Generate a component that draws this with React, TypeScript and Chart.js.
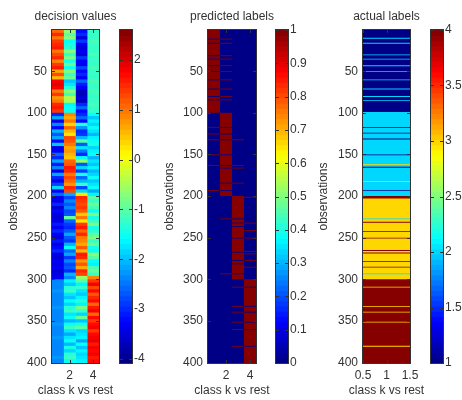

import React, { useEffect, useRef } from "react";
import { Chart, registerables } from "chart.js";
Chart.register(...registerables);

// decision values, one entry per 4 observations
const decisionClass1 = [
  1.1,1.5,1.0,1.4,1.5,1.6,1.0,1.3,1.5,0.9,1.4,1.6,0.7,1.3,0.6,1.8,1.9,1.8,1.0,1.4,0.8,1.0,1.5,1.6,1.4,
  -3,-2.2,-3.4,-2.4,-3.2,-2.0,-2.7,-2.2,-3.2,-1.9,-3.4,-3.3,-2.6,-3.0,-2.1,-3.1,-2.4,-3.4,-2.2,-3.0,-3.3,-2.8,-1.8,-3.3,-2.6,
  -3.3,-3.4,-3,-3.5,-3.2,-3.4,-3.5,-3.4,-3.1,-3.3,-3,-3.3,-3.4,-3.1,-3.4,-3.2,-3,-3.4,-3.5,-3.3,-3.4,-3.3,-3.5,-3.4,-3.3,
  -2.4,-2.35,-2.4,-2.3,-2.4,-2.35,-2.4,-2.4,-2.3,-2.4,-2.35,-2.4,-2.4,-2.3,-2.35,-2.4,-2.4,-2.3,-2.4,-2.35,-2.4,-2.35,-2.4,-2.3,-2.4,
];
const decisionClass2 = [
  -0.6,-1,-0.7,-1.5,-1.4,-1.3,-0.7,-1.2,-0.8,-1.4,-0.9,-1.5,-0.7,-1.2,-0.9,-1.9,-1.7,-1.3,-0.7,-1.1,-0.4,-0.5,-1.6,-1.5,-1.5,
  0.9,0.7,1,0.4,1.1,0.6,0.2,1.3,1.2,1,0.7,0.8,0.6,0.5,1.1,1.2,1.6,1.5,1.0,1.3,1.1,0.8,1.5,1.3,-2.2,
  -2.8,-2.4,-2.7,-2.4,-2.8,-2.7,-0.9,-2.6,-2.9,-3,-2.7,-2.2,-2.7,-2.9,-2,-1.5,-2.6,-2.1,-2.9,-2.4,-2.8,-2.7,-3,-2,-2.4,
  -1.6,-1.9,-1.3,-1.2,-1.7,-1.9,-1.5,-1.8,-1.3,-1.2,-1.7,-1.5,-2,-1.5,-1.2,-1.7,-2.2,-1.7,-1.5,-2,-1.4,-1.8,-1.3,-1.2,-1.5,
];
const decisionClass3 = [
  -3.2,-3,-3.5,-2.9,-3.3,-3.5,-3.3,-3.5,-2.9,-3.3,-3.3,-2.8,-3.2,-3.0,-3.3,-2.6,-3.1,-3.3,-3.6,-3.7,-3.5,-3.7,-3.0,-2.6,-3.2,
  -3,-2.6,-3.2,-1.3,-2.3,-3,-2.9,-2,-1,-2.7,-1.7,-2.5,-3,-1.5,-0.6,-2.7,-1.8,-2.9,-1.4,-2.6,-2,-1.2,-2.8,-1.8,0.2,
  1.5,1.4,1.3,1.4,1.2,0.5,1.0,0.3,1.4,1.6,1.1,1.5,1.0,0.9,0.7,1.2,0.6,1.6,1.5,0.8,1.2,0.7,1.5,1.3,-0.6,
  -1,-1.6,-1.2,-1.7,-1.9,-1.6,-1.3,-1.6,-0.8,-1.2,-1.8,-0.9,-1.9,-1.4,-1.0,-1.8,-1.7,-1.6,-2.1,-1.5,-1.9,-1.6,-1.8,-1.7,-1.6,
];
const decisionClass4 = [
  -1.25,-1.2,-1.25,-1.15,-1.2,-1.25,-1.2,-1.15,-1.25,-1.2,-1.25,-1.15,-1.2,-1.25,-1.2,-1.15,-1.25,-1.2,-1.15,-1.2,-1.25,-1.2,-1.15,-1.25,-1.2,
  -1.5,-1.9,-1.6,-1.8,-1.5,-1.7,-2.0,-1.6,-1.5,-1.4,-1.8,-1.6,-1.5,-2,-1.7,-1.9,-1.6,-2,-1.8,-1.5,-1.9,-1.7,-1.5,-2.1,-1.6,
  -1,-1.2,-0.9,-1.1,-1.5,-0.8,-1.4,-1.2,-0.8,-1.4,-1.3,-1.0,-0.8,-1.2,-0.9,-1.4,-1.5,-0.7,-1,-1.5,-1.6,-1.1,-0.9,-1.2,0.9,
  1.4,1.8,1.3,1.7,1.2,1.5,1.7,1.1,1.6,1.8,1.1,1.7,1.4,1.7,1.8,1.4,1.7,1.8,1.9,1.6,1.8,1.7,1.8,1.6,1.7,
];

// predicted labels: rows that deviate from the class block of each column
const predictedOff1 = [12,17,32,36,44,51,61,72,81,85];
const predictedOn1 = [118,126,133,151,164,194];
const predictedOff2 = [118,126,133,151,164,194,167,185];
const predictedOn2 = [12,17,32,36,44,51,61,72,81,85,228,294];
const predictedOff3 = [228,233,237,251,268,278,282,294];
const predictedOn3 = [133,164,167,185,310,333,340,352,361,381];
const predictedOff4 = [310,333,340,352,361,381];
const predictedOn4 = [202,233,242,251,267,270,278,286];

// actual labels: rows that deviate from the class block
const actualAs1 = [118,125,132,151,166,194];
const actualAs2 = [11,17,31,36,44,51,61,72,81,86,100,228,294];
const actualAs3 = [163,183,310,333,340,352,381];
const actualAs4 = [201,202,203,232,243,251,266,269,279,286];

const blockStarts = [1, 101, 201, 301];
const rowNumbers = Array.from({ length: 400 }, (_, i) => i + 1);

// tick labels
const obsTicks = [50,100,150,200,250,300,350,400];
const classTicks = [2,4];
const actualClassTicks = [0.5,1,1.5];
const decisionBarTicks = [-4,-3,-2,-1,0,1,2];
const predictedBarTicks = [0,0.1,0.2,0.3,0.4,0.5,0.6,0.7,0.8,0.9,1];
const actualBarTicks = [1,1.5,2,2.5,3,3.5,4];

function jet(v: number): string {
  const idx = Math.min(63, Math.max(0, Math.floor(v * 64)));
  const t = (idx + 0.5) / 64;
  const c = (x: number) => Math.round(255 * Math.min(1, Math.max(0, 1.5 - Math.abs(4 * t - x))));
  return `rgb(${c(3)},${c(2)},${c(1)})`;
}

const classOf = (row: number) => {
  let k = 0;
  blockStarts.forEach((s, i) => { if (row >= s) k = i + 1; });
  return k;
};
const expandBlocks = (a: number[]) => rowNumbers.map((r) => a[Math.floor((r - 1) / 4)]);
const predictedColumn = (k: number, off: number[], on: number[]) =>
  rowNumbers.map((r) => (on.includes(r) ? 1 : off.includes(r) ? 0 : classOf(r) === k ? 1 : 0));
const actualColumn = rowNumbers.map((r) =>
  actualAs1.includes(r) ? 1 : actualAs2.includes(r) ? 2 : actualAs3.includes(r) ? 3 : actualAs4.includes(r) ? 4 : classOf(r));

const FONT = { family: "'Liberation Sans', Arial, sans-serif", size: 12 };
const TEXT = "#333";
const LINE = "#333";
const TOP = 30;
const BOTTOM_H = 37;
const SOFT = "blur(0.5px)";

const setTicks = (values: number[]) => (s: any) => { s.ticks = values.map((value) => ({ value })); };
const fmt = (v: any) => String(+(+v).toFixed(2));

const frame = (tickX: boolean) => ({
  id: "frame",
  afterDatasetsDraw(chart: any) {
    const { ctx, chartArea: a, scales } = chart;
    ctx.save();
    ctx.strokeStyle = LINE;
    ctx.lineWidth = 1;
    ctx.beginPath();
    for (const t of scales.y.ticks) {
      const p = Math.round(scales.y.getPixelForValue(t.value)) + 0.5;
      ctx.moveTo(a.left, p); ctx.lineTo(a.left + 3, p);
      ctx.moveTo(a.right, p); ctx.lineTo(a.right - 3, p);
    }
    if (tickX) {
      for (const t of scales.x.ticks) {
        const p = Math.round(scales.x.getPixelForValue(t.value)) + 0.5;
        ctx.moveTo(p, a.top); ctx.lineTo(p, a.top + 3);
        ctx.moveTo(p, a.bottom); ctx.lineTo(p, a.bottom - 3);
      }
    }
    ctx.stroke();
    ctx.strokeRect(a.left - 0.5, a.top - 0.5, a.right - a.left + 1, a.bottom - a.top + 1);
    ctx.restore();
  },
});

type HeatProps = {
  left: number; width: number; plotLeft: number; plotRight: number;
  title: string; columns: number[][]; lo: number; hi: number;
  xTicks: number[]; xMax: number; yTitlePad: number;
};

function Heat(p: HeatProps) {
  const ref = useRef<HTMLCanvasElement>(null);
  useEffect(() => {
    const chart = new Chart(ref.current!, {
      type: "bar",
      data: {
        datasets: p.columns.map((col, k) => ({
          data: col.map((_, i) => ({ x: [k + 0.5, k + 1.5], y: rowNumbers[i] })),
          backgroundColor: col.map((v) => jet((v - p.lo) / (p.hi - p.lo))),
          borderWidth: 0,
          grouped: false,
          categoryPercentage: 1,
          barPercentage: 2.2,
        })),
      } as any,
      options: {
        indexAxis: "y",
        responsive: false,
        animation: false,
        plugins: {
          legend: { display: false },
          tooltip: { enabled: false },
          title: { display: true, text: p.title, color: TEXT, font: { ...FONT, weight: "normal" }, padding: { top: 9, bottom: TOP - 9 - 14.4 } },
          subtitle: { display: true, position: "bottom", text: "class k vs rest", color: TEXT, font: { ...FONT, weight: "normal" }, padding: { top: 0, bottom: 2 } },
        },
        scales: {
          x: {
            type: "linear", min: 0.5, max: p.xMax, offset: false,
            grid: { display: false, drawTicks: false }, border: { display: false },
            afterBuildTicks: setTicks(p.xTicks),
            ticks: { color: TEXT, font: FONT, padding: 5, maxRotation: 0, autoSkip: false, callback: fmt },
            afterFit: (s: any) => { s.height = BOTTOM_H - 16.4; },
          },
          y: {
            type: "linear", reverse: true, min: 0.5, max: 400.5, offset: false,
            grid: { display: false, offset: false, drawTicks: false }, border: { display: false },
            title: { display: true, text: "observations", color: TEXT, font: FONT, padding: { top: p.yTitlePad, bottom: 0 } },
            afterBuildTicks: setTicks(obsTicks),
            ticks: { color: TEXT, font: FONT, padding: 5, autoSkip: false, callback: fmt },
            afterFit: (s: any) => { s.width = p.plotLeft - p.left; },
          },
          spacer: {
            type: "linear", position: "right", display: true,
            grid: { display: false, drawTicks: false }, border: { display: false },
            ticks: { display: false },
            afterFit: (s: any) => { s.width = p.width - (p.plotRight - p.left); },
          },
        },
      } as any,
      plugins: [frame(true)],
    });
    return () => chart.destroy();
  }, []);
  return <canvas ref={ref} width={p.width} height={400} style={{ position: "absolute", left: p.left, top: 0, display: "block", filter: SOFT }} />;
}

type BarProps = { left: number; width: number; plotLeft: number; plotRight: number; lo: number; hi: number; yTicks: number[] };

function ColorBar(p: BarProps) {
  const ref = useRef<HTMLCanvasElement>(null);
  useEffect(() => {
    const levels = Array.from({ length: 64 }, (_, i) => i);
    const chart = new Chart(ref.current!, {
      type: "bar",
      data: {
        datasets: [{
          data: levels.map((i) => ({ x: [0, 1], y: p.lo + ((i + 0.5) / 64) * (p.hi - p.lo) })),
          backgroundColor: levels.map((i) => jet((i + 0.5) / 64)),
          borderWidth: 0,
          categoryPercentage: 1,
          barPercentage: 1.3,
        }],
      } as any,
      options: {
        indexAxis: "y",
        responsive: false,
        animation: false,
        layout: { padding: { left: p.plotLeft - p.left, right: 0, top: TOP, bottom: BOTTOM_H } },
        plugins: { legend: { display: false }, tooltip: { enabled: false }, title: { display: false } },
        scales: {
          x: { type: "linear", display: false, min: 0, max: 1 },
          y: {
            type: "linear", position: "right", min: p.lo, max: p.hi, offset: false,
            grid: { display: false, offset: false, drawTicks: false }, border: { display: false },
            afterBuildTicks: setTicks(p.yTicks),
            ticks: { color: TEXT, font: FONT, padding: 2, autoSkip: false, callback: fmt },
            afterFit: (s: any) => { s.width = p.left + p.width - p.plotRight; },
          },
        },
      } as any,
      plugins: [frame(false)],
    });
    return () => chart.destroy();
  }, []);
  return <canvas ref={ref} width={p.width} height={400} style={{ position: "absolute", left: p.left, top: 0, display: "block", filter: SOFT }} />;
}

export default function App() {
  const decision = [decisionClass1, decisionClass2, decisionClass3, decisionClass4].map(expandBlocks);
  const predicted = [
    predictedColumn(1, predictedOff1, predictedOn1),
    predictedColumn(2, predictedOff2, predictedOn2),
    predictedColumn(3, predictedOff3, predictedOn3),
    predictedColumn(4, predictedOff4, predictedOn4),
  ];
  return (
    <div style={{ position: "absolute", left: 0, top: 0, width: 462, height: 400, background: "#fff", overflow: "hidden" }}>
      <Heat left={0} width={151} plotLeft={52} plotRight={99} title="decision values" columns={decision} lo={-4.08} hi={2.6} xTicks={classTicks} xMax={4.5} yTitlePad={6} />
      <ColorBar left={112} width={40} plotLeft={120} plotRight={132} lo={-4.08} hi={2.6} yTicks={decisionBarTicks} />
      <Heat left={160} width={144} plotLeft={208} plotRight={256} title="predicted labels" columns={predicted} lo={0} hi={1} xTicks={classTicks} xMax={4.5} yTitlePad={2} />
      <ColorBar left={268} width={44} plotLeft={276} plotRight={288} lo={0} hi={1} yTicks={predictedBarTicks} />
      <Heat left={310} width={153} plotLeft={363} plotRight={410} title="actual labels" columns={[actualColumn]} lo={1} hi={4} xTicks={actualClassTicks} xMax={1.5} yTitlePad={6} />
      <ColorBar left={423} width={39} plotLeft={431} plotRight={443} lo={1} hi={4} yTicks={actualBarTicks} />
    </div>
  );
}
